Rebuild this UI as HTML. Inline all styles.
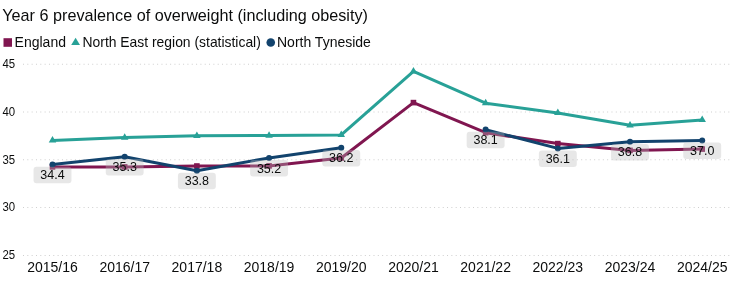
<!DOCTYPE html>
<html><head><meta charset="utf-8"><style>
html,body{margin:0;padding:0;background:#fff;width:737px;height:281px;overflow:hidden}
svg{display:block;will-change:transform;font-family:"Liberation Sans",sans-serif;fill:#0b0c0c}
</style></head><body>
<svg width="737" height="281" viewBox="0 0 737 281">
<text x="2.3" y="20.5" font-size="16.2">Year 6 prevalence of overweight (including obesity)</text>
<rect x="3.5" y="38.2" width="8.5" height="8.6" fill="#801650"/>
<text x="14.6" y="46.5" font-size="14">England</text>
<path d="M75.6,37.7 L80,45.1 L71.2,45.1 Z" fill="#28a197"/>
<text x="82.5" y="46.5" font-size="13.9">North East region (statistical)</text>
<circle cx="270.75" cy="42.5" r="4.3" fill="#12436d"/>
<text x="277" y="46.5" font-size="14">North Tyneside</text>
<line x1="23" x2="729.5" y1="64.25" y2="64.25" stroke="#cfcfcf" stroke-width="1" stroke-dasharray="1 3.327"/>
<text x="2.5" y="67.75" font-size="12" textLength="12.7" lengthAdjust="spacingAndGlyphs">45</text>
<line x1="23" x2="729.5" y1="112.00" y2="112.00" stroke="#cfcfcf" stroke-width="1" stroke-dasharray="1 3.327"/>
<text x="2.5" y="115.50" font-size="12" textLength="12.7" lengthAdjust="spacingAndGlyphs">40</text>
<line x1="23" x2="729.5" y1="159.75" y2="159.75" stroke="#cfcfcf" stroke-width="1" stroke-dasharray="1 3.327"/>
<text x="2.5" y="164.00" font-size="12" textLength="12.7" lengthAdjust="spacingAndGlyphs">35</text>
<line x1="23" x2="729.5" y1="207.50" y2="207.50" stroke="#cfcfcf" stroke-width="1" stroke-dasharray="1 3.327"/>
<text x="2.5" y="211.00" font-size="12" textLength="12.7" lengthAdjust="spacingAndGlyphs">30</text>
<line x1="23" x2="729.5" y1="255.50" y2="255.50" stroke="#cfcfcf" stroke-width="1" stroke-dasharray="1 3.327"/>
<text x="2.5" y="259.00" font-size="12" textLength="12.7" lengthAdjust="spacingAndGlyphs">25</text>
<text x="52.50" y="272" font-size="14" text-anchor="middle">2015/16</text>
<text x="124.69" y="272" font-size="14" text-anchor="middle">2016/17</text>
<text x="196.88" y="272" font-size="14" text-anchor="middle">2017/18</text>
<text x="269.07" y="272" font-size="14" text-anchor="middle">2018/19</text>
<text x="341.26" y="272" font-size="14" text-anchor="middle">2019/20</text>
<text x="413.45" y="272" font-size="14" text-anchor="middle">2020/21</text>
<text x="485.64" y="272" font-size="14" text-anchor="middle">2021/22</text>
<text x="557.83" y="272" font-size="14" text-anchor="middle">2022/23</text>
<text x="630.02" y="272" font-size="14" text-anchor="middle">2023/24</text>
<text x="702.21" y="272" font-size="14" text-anchor="middle">2024/25</text>
<path d="M52.50,166.90 L124.69,166.90 L196.88,166.00 L269.07,165.90 L341.26,158.00 L413.45,102.60 L485.64,132.70 L557.83,143.60 L630.02,150.40 L702.21,149.10" fill="none" stroke="#801650" stroke-width="3" stroke-linejoin="round"/>
<rect x="49.70" y="164.10" width="5.6" height="5.6" fill="#801650"/>
<rect x="121.89" y="164.10" width="5.6" height="5.6" fill="#801650"/>
<rect x="194.08" y="163.20" width="5.6" height="5.6" fill="#801650"/>
<rect x="266.27" y="163.10" width="5.6" height="5.6" fill="#801650"/>
<rect x="338.46" y="155.20" width="5.6" height="5.6" fill="#801650"/>
<rect x="410.65" y="99.80" width="5.6" height="5.6" fill="#801650"/>
<rect x="482.84" y="129.90" width="5.6" height="5.6" fill="#801650"/>
<rect x="555.03" y="140.80" width="5.6" height="5.6" fill="#801650"/>
<rect x="627.22" y="147.60" width="5.6" height="5.6" fill="#801650"/>
<rect x="699.41" y="146.30" width="5.6" height="5.6" fill="#801650"/>
<path d="M52.50,140.40 L124.69,137.50 L196.88,135.80 L269.07,135.50 L341.26,134.90 L413.45,71.40 L485.64,103.20 L557.83,112.90 L630.02,125.30 L702.21,119.90" fill="none" stroke="#28a197" stroke-width="3" stroke-linejoin="round"/>
<path d="M52.50,136.06 L56.26,142.57 L48.74,142.57 Z" fill="#28a197"/>
<path d="M124.69,133.16 L128.45,139.67 L120.93,139.67 Z" fill="#28a197"/>
<path d="M196.88,131.46 L200.64,137.97 L193.12,137.97 Z" fill="#28a197"/>
<path d="M269.07,131.16 L272.83,137.67 L265.31,137.67 Z" fill="#28a197"/>
<path d="M341.26,130.56 L345.02,137.07 L337.50,137.07 Z" fill="#28a197"/>
<path d="M413.45,67.06 L417.21,73.57 L409.69,73.57 Z" fill="#28a197"/>
<path d="M485.64,98.86 L489.40,105.37 L481.88,105.37 Z" fill="#28a197"/>
<path d="M557.83,108.56 L561.59,115.07 L554.07,115.07 Z" fill="#28a197"/>
<path d="M630.02,120.96 L633.78,127.47 L626.26,127.47 Z" fill="#28a197"/>
<path d="M702.21,115.56 L705.97,122.07 L698.45,122.07 Z" fill="#28a197"/>
<path d="M52.50,164.60 L124.69,156.80 L196.88,170.70 L269.07,157.90 L341.26,147.80 M485.64,129.60 L557.83,148.40 L630.02,141.80 L702.21,140.40" fill="none" stroke="#12436d" stroke-width="3" stroke-linejoin="round"/>
<circle cx="52.50" cy="164.60" r="3.0" fill="#12436d"/>
<circle cx="124.69" cy="156.80" r="3.0" fill="#12436d"/>
<circle cx="196.88" cy="170.70" r="3.0" fill="#12436d"/>
<circle cx="269.07" cy="157.90" r="3.0" fill="#12436d"/>
<circle cx="341.26" cy="147.80" r="3.0" fill="#12436d"/>
<circle cx="485.64" cy="129.60" r="3.0" fill="#12436d"/>
<circle cx="557.83" cy="148.40" r="3.0" fill="#12436d"/>
<circle cx="630.02" cy="141.80" r="3.0" fill="#12436d"/>
<circle cx="702.21" cy="140.40" r="3.0" fill="#12436d"/>
<rect x="33.55" y="166.70" width="37.9" height="16.5" rx="3" fill="rgba(185,185,185,0.35)"/>
<text x="52.50" y="179.20" font-size="12.5" text-anchor="middle">34.4</text>
<rect x="105.74" y="158.90" width="37.9" height="16.5" rx="3" fill="rgba(185,185,185,0.35)"/>
<text x="124.69" y="171.40" font-size="12.5" text-anchor="middle">35.3</text>
<rect x="177.93" y="172.80" width="37.9" height="16.5" rx="3" fill="rgba(185,185,185,0.35)"/>
<text x="196.88" y="185.30" font-size="12.5" text-anchor="middle">33.8</text>
<rect x="250.12" y="160.00" width="37.9" height="16.5" rx="3" fill="rgba(185,185,185,0.35)"/>
<text x="269.07" y="172.50" font-size="12.5" text-anchor="middle">35.2</text>
<rect x="322.31" y="149.90" width="37.9" height="16.5" rx="3" fill="rgba(185,185,185,0.35)"/>
<text x="341.26" y="162.40" font-size="12.5" text-anchor="middle">36.2</text>
<rect x="466.69" y="131.70" width="37.9" height="16.5" rx="3" fill="rgba(185,185,185,0.35)"/>
<text x="485.64" y="144.20" font-size="12.5" text-anchor="middle">38.1</text>
<rect x="538.88" y="150.50" width="37.9" height="16.5" rx="3" fill="rgba(185,185,185,0.35)"/>
<text x="557.83" y="163.00" font-size="12.5" text-anchor="middle">36.1</text>
<rect x="611.07" y="143.90" width="37.9" height="16.5" rx="3" fill="rgba(185,185,185,0.35)"/>
<text x="630.02" y="156.40" font-size="12.5" text-anchor="middle">36.8</text>
<rect x="683.26" y="142.50" width="37.9" height="16.5" rx="3" fill="rgba(185,185,185,0.35)"/>
<text x="702.21" y="155.00" font-size="12.5" text-anchor="middle">37.0</text>
</svg>
</body></html>
